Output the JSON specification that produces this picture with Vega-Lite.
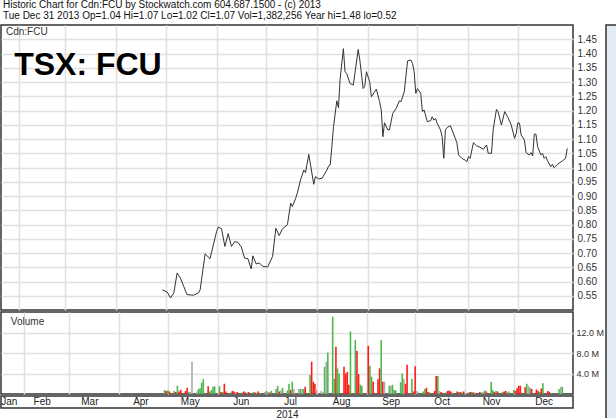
{
  "$schema": "https://vega.github.io/schema/vega-lite/v6.json",
  "padding": 0,
  "background": "white",
  "spacing": 0,
  "title": {
    "text": "Historic Chart for Cdn:FCU by Stockwatch.com 604.687.1500 - (c) 2013",
    "subtitle": "Tue Dec 31 2013  Op=1.04  Hi=1.07  Lo=1.02  Cl=1.07  Vol=1,382,256  Year hi=1.48  lo=0.52",
    "anchor": "start",
    "frame": "group",
    "font": "Liberation Sans",
    "fontSize": 10,
    "fontWeight": "normal",
    "color": "#111",
    "subtitleFont": "Liberation Sans",
    "subtitleFontSize": 10,
    "subtitleColor": "#111",
    "subtitlePadding": 1,
    "offset": 3,
    "dx": 2
  },
  "datasets": {
    "price": [
      {"date": "2014-04-29", "close": 0.571}, {"date": "2014-05-02", "close": 0.563}, {"date": "2014-05-04", "close": 0.542},
      {"date": "2014-05-06", "close": 0.560}, {"date": "2014-05-08", "close": 0.630}, {"date": "2014-05-10", "close": 0.612},
      {"date": "2014-05-12", "close": 0.583}, {"date": "2014-05-14", "close": 0.554}, {"date": "2014-05-18", "close": 0.552},
      {"date": "2014-05-21", "close": 0.560}, {"date": "2014-05-22", "close": 0.571}, {"date": "2014-05-25", "close": 0.697},
      {"date": "2014-05-28", "close": 0.680}, {"date": "2014-05-29", "close": 0.705}, {"date": "2014-06-01", "close": 0.776},
      {"date": "2014-06-02", "close": 0.791}, {"date": "2014-06-04", "close": 0.785}, {"date": "2014-06-06", "close": 0.723},
      {"date": "2014-06-08", "close": 0.768}, {"date": "2014-06-10", "close": 0.723}, {"date": "2014-06-12", "close": 0.740},
      {"date": "2014-06-14", "close": 0.737}, {"date": "2014-06-16", "close": 0.721}, {"date": "2014-06-18", "close": 0.682},
      {"date": "2014-06-20", "close": 0.680}, {"date": "2014-06-22", "close": 0.644}, {"date": "2014-06-23", "close": 0.690},
      {"date": "2014-06-25", "close": 0.662}, {"date": "2014-06-27", "close": 0.665}, {"date": "2014-06-29", "close": 0.653},
      {"date": "2014-07-02", "close": 0.651}, {"date": "2014-07-05", "close": 0.688}, {"date": "2014-07-07", "close": 0.787},
      {"date": "2014-07-09", "close": 0.761}, {"date": "2014-07-11", "close": 0.785}, {"date": "2014-07-14", "close": 0.799},
      {"date": "2014-07-16", "close": 0.875}, {"date": "2014-07-17", "close": 0.863}, {"date": "2014-07-19", "close": 0.892},
      {"date": "2014-07-20", "close": 0.910}, {"date": "2014-07-22", "close": 0.957}, {"date": "2014-07-24", "close": 0.991},
      {"date": "2014-07-25", "close": 0.982}, {"date": "2014-07-27", "close": 1.046}, {"date": "2014-07-30", "close": 0.941},
      {"date": "2014-07-31", "close": 0.968}, {"date": "2014-08-02", "close": 0.960}, {"date": "2014-08-04", "close": 0.962},
      {"date": "2014-08-07", "close": 0.991}, {"date": "2014-08-08", "close": 1.005}, {"date": "2014-08-09", "close": 1.009},
      {"date": "2014-08-10", "close": 1.073}, {"date": "2014-08-11", "close": 1.143}, {"date": "2014-08-13", "close": 1.234},
      {"date": "2014-08-14", "close": 1.210}, {"date": "2014-08-15", "close": 1.309}, {"date": "2014-08-17", "close": 1.417},
      {"date": "2014-08-18", "close": 1.336}, {"date": "2014-08-19", "close": 1.330}, {"date": "2014-08-21", "close": 1.295},
      {"date": "2014-08-23", "close": 1.289}, {"date": "2014-08-24", "close": 1.330}, {"date": "2014-08-26", "close": 1.414},
      {"date": "2014-08-27", "close": 1.377}, {"date": "2014-08-29", "close": 1.277}, {"date": "2014-08-30", "close": 1.285},
      {"date": "2014-08-31", "close": 1.336}, {"date": "2014-09-02", "close": 1.301}, {"date": "2014-09-03", "close": 1.248},
      {"date": "2014-09-06", "close": 1.275}, {"date": "2014-09-08", "close": 1.231}, {"date": "2014-09-09", "close": 1.202},
      {"date": "2014-09-10", "close": 1.108}, {"date": "2014-09-11", "close": 1.157}, {"date": "2014-09-13", "close": 1.132},
      {"date": "2014-09-14", "close": 1.132}, {"date": "2014-09-16", "close": 1.190}, {"date": "2014-09-18", "close": 1.207},
      {"date": "2014-09-20", "close": 1.234}, {"date": "2014-09-21", "close": 1.231}, {"date": "2014-09-23", "close": 1.266},
      {"date": "2014-09-25", "close": 1.374}, {"date": "2014-09-27", "close": 1.377}, {"date": "2014-09-28", "close": 1.365},
      {"date": "2014-09-29", "close": 1.336}, {"date": "2014-09-30", "close": 1.260}, {"date": "2014-10-01", "close": 1.277},
      {"date": "2014-10-03", "close": 1.260}, {"date": "2014-10-04", "close": 1.196}, {"date": "2014-10-05", "close": 1.202},
      {"date": "2014-10-07", "close": 1.161}, {"date": "2014-10-09", "close": 1.164}, {"date": "2014-10-10", "close": 1.178},
      {"date": "2014-10-11", "close": 1.166}, {"date": "2014-10-12", "close": 1.172}, {"date": "2014-10-13", "close": 1.155},
      {"date": "2014-10-15", "close": 1.132}, {"date": "2014-10-16", "close": 1.108}, {"date": "2014-10-17", "close": 1.032},
      {"date": "2014-10-18", "close": 1.132}, {"date": "2014-10-19", "close": 1.140}, {"date": "2014-10-21", "close": 1.147},
      {"date": "2014-10-22", "close": 1.132}, {"date": "2014-10-24", "close": 1.102}, {"date": "2014-10-25", "close": 1.085},
      {"date": "2014-10-26", "close": 1.044}, {"date": "2014-10-28", "close": 1.032}, {"date": "2014-10-30", "close": 1.026},
      {"date": "2014-10-31", "close": 1.020}, {"date": "2014-11-01", "close": 1.038}, {"date": "2014-11-02", "close": 1.032},
      {"date": "2014-11-04", "close": 1.087}, {"date": "2014-11-06", "close": 1.076}, {"date": "2014-11-08", "close": 1.071},
      {"date": "2014-11-10", "close": 1.064}, {"date": "2014-11-12", "close": 1.079}, {"date": "2014-11-13", "close": 1.050},
      {"date": "2014-11-15", "close": 1.050}, {"date": "2014-11-16", "close": 1.132}, {"date": "2014-11-18", "close": 1.204},
      {"date": "2014-11-19", "close": 1.196}, {"date": "2014-11-21", "close": 1.149}, {"date": "2014-11-23", "close": 1.196},
      {"date": "2014-11-25", "close": 1.175}, {"date": "2014-11-27", "close": 1.149}, {"date": "2014-11-29", "close": 1.102},
      {"date": "2014-11-30", "close": 1.120}, {"date": "2014-12-01", "close": 1.157}, {"date": "2014-12-02", "close": 1.155},
      {"date": "2014-12-03", "close": 1.114}, {"date": "2014-12-05", "close": 1.096}, {"date": "2014-12-06", "close": 1.052},
      {"date": "2014-12-08", "close": 1.044}, {"date": "2014-12-09", "close": 1.052}, {"date": "2014-12-10", "close": 1.041},
      {"date": "2014-12-11", "close": 1.117}, {"date": "2014-12-12", "close": 1.117}, {"date": "2014-12-13", "close": 1.073},
      {"date": "2014-12-15", "close": 1.044}, {"date": "2014-12-16", "close": 1.050}, {"date": "2014-12-17", "close": 1.032},
      {"date": "2014-12-18", "close": 1.038}, {"date": "2014-12-19", "close": 1.024}, {"date": "2014-12-21", "close": 1.003},
      {"date": "2014-12-22", "close": 1.011}, {"date": "2014-12-23", "close": 0.999}, {"date": "2014-12-25", "close": 1.011},
      {"date": "2014-12-28", "close": 1.023}, {"date": "2014-12-30", "close": 1.032}, {"date": "2014-12-31", "close": 1.067}
    ],
    "volume": [
      {"date": "2014-04-29", "vol": 0.8, "dir": "up"}, {"date": "2014-04-30", "vol": 0.6, "dir": "down"},
      {"date": "2014-05-01", "vol": 0.7, "dir": "up"}, {"date": "2014-05-02", "vol": 0.5, "dir": "down"},
      {"date": "2014-05-05", "vol": 0.6, "dir": "up"}, {"date": "2014-05-06", "vol": 0.4, "dir": "down"},
      {"date": "2014-05-07", "vol": 1.6, "dir": "up"}, {"date": "2014-05-08", "vol": 0.5, "dir": "down"},
      {"date": "2014-05-09", "vol": 0.8, "dir": "down"}, {"date": "2014-05-12", "vol": 0.6, "dir": "down"},
      {"date": "2014-05-13", "vol": 1.2, "dir": "down"}, {"date": "2014-05-14", "vol": 0.4, "dir": "up"},
      {"date": "2014-05-15", "vol": 0.4, "dir": "flat"}, {"date": "2014-05-16", "vol": 6.3, "dir": "flat"},
      {"date": "2014-05-19", "vol": 0.5, "dir": "flat"}, {"date": "2014-05-20", "vol": 1.0, "dir": "up"},
      {"date": "2014-05-21", "vol": 1.1, "dir": "up"}, {"date": "2014-05-22", "vol": 2.2, "dir": "up"},
      {"date": "2014-05-23", "vol": 2.9, "dir": "up"}, {"date": "2014-05-26", "vol": 1.5, "dir": "down"},
      {"date": "2014-05-27", "vol": 0.5, "dir": "up"}, {"date": "2014-05-28", "vol": 0.8, "dir": "up"},
      {"date": "2014-05-29", "vol": 1.4, "dir": "up"}, {"date": "2014-05-30", "vol": 1.5, "dir": "up"},
      {"date": "2014-06-02", "vol": 1.5, "dir": "up"}, {"date": "2014-06-03", "vol": 0.4, "dir": "down"},
      {"date": "2014-06-04", "vol": 0.4, "dir": "up"}, {"date": "2014-06-05", "vol": 2.0, "dir": "down"},
      {"date": "2014-06-06", "vol": 0.5, "dir": "down"}, {"date": "2014-06-09", "vol": 0.3, "dir": "up"},
      {"date": "2014-06-10", "vol": 0.6, "dir": "down"}, {"date": "2014-06-11", "vol": 0.5, "dir": "down"},
      {"date": "2014-06-12", "vol": 0.3, "dir": "flat"}, {"date": "2014-06-13", "vol": 0.4, "dir": "down"},
      {"date": "2014-06-16", "vol": 0.3, "dir": "up"}, {"date": "2014-06-17", "vol": 0.5, "dir": "down"},
      {"date": "2014-06-18", "vol": 0.3, "dir": "down"}, {"date": "2014-06-19", "vol": 0.3, "dir": "flat"},
      {"date": "2014-06-20", "vol": 0.4, "dir": "down"}, {"date": "2014-06-23", "vol": 0.4, "dir": "up"},
      {"date": "2014-06-24", "vol": 0.3, "dir": "down"}, {"date": "2014-06-25", "vol": 0.3, "dir": "flat"},
      {"date": "2014-06-26", "vol": 0.5, "dir": "down"}, {"date": "2014-06-27", "vol": 0.2, "dir": "up"},
      {"date": "2014-06-30", "vol": 0.4, "dir": "flat"}, {"date": "2014-07-01", "vol": 0.6, "dir": "up"},
      {"date": "2014-07-02", "vol": 0.4, "dir": "flat"}, {"date": "2014-07-03", "vol": 0.3, "dir": "down"},
      {"date": "2014-07-04", "vol": 0.6, "dir": "up"}, {"date": "2014-07-07", "vol": 1.0, "dir": "up"},
      {"date": "2014-07-08", "vol": 1.6, "dir": "up"}, {"date": "2014-07-09", "vol": 0.5, "dir": "down"},
      {"date": "2014-07-10", "vol": 0.7, "dir": "flat"}, {"date": "2014-07-11", "vol": 1.2, "dir": "up"},
      {"date": "2014-07-14", "vol": 0.7, "dir": "up"}, {"date": "2014-07-15", "vol": 2.0, "dir": "up"},
      {"date": "2014-07-16", "vol": 0.8, "dir": "down"}, {"date": "2014-07-17", "vol": 2.4, "dir": "up"},
      {"date": "2014-07-18", "vol": 1.0, "dir": "flat"}, {"date": "2014-07-21", "vol": 1.0, "dir": "flat"},
      {"date": "2014-07-22", "vol": 1.0, "dir": "up"}, {"date": "2014-07-23", "vol": 1.0, "dir": "flat"},
      {"date": "2014-07-24", "vol": 1.0, "dir": "up"}, {"date": "2014-07-25", "vol": 1.4, "dir": "down"},
      {"date": "2014-07-28", "vol": 3.7, "dir": "up"}, {"date": "2014-07-29", "vol": 6.3, "dir": "down"},
      {"date": "2014-07-30", "vol": 2.4, "dir": "down"}, {"date": "2014-07-31", "vol": 2.0, "dir": "down"},
      {"date": "2014-08-01", "vol": 0.8, "dir": "flat"}, {"date": "2014-08-04", "vol": 0.6, "dir": "flat"},
      {"date": "2014-08-05", "vol": 0.3, "dir": "up"}, {"date": "2014-08-06", "vol": 5.3, "dir": "up"},
      {"date": "2014-08-07", "vol": 6.3, "dir": "flat"}, {"date": "2014-08-08", "vol": 8.1, "dir": "up"},
      {"date": "2014-08-11", "vol": 15.1, "dir": "up"}, {"date": "2014-08-12", "vol": 3.0, "dir": "up"},
      {"date": "2014-08-13", "vol": 9.2, "dir": "down"}, {"date": "2014-08-14", "vol": 5.0, "dir": "up"},
      {"date": "2014-08-15", "vol": 4.0, "dir": "up"}, {"date": "2014-08-18", "vol": 5.3, "dir": "down"},
      {"date": "2014-08-19", "vol": 4.0, "dir": "down"}, {"date": "2014-08-20", "vol": 4.3, "dir": "down"},
      {"date": "2014-08-21", "vol": 1.8, "dir": "down"}, {"date": "2014-08-22", "vol": 12.2, "dir": "up"},
      {"date": "2014-08-25", "vol": 10.5, "dir": "up"}, {"date": "2014-08-26", "vol": 8.4, "dir": "down"},
      {"date": "2014-08-27", "vol": 3.9, "dir": "down"}, {"date": "2014-08-28", "vol": 1.8, "dir": "up"},
      {"date": "2014-08-29", "vol": 1.6, "dir": "up"}, {"date": "2014-09-02", "vol": 9.4, "dir": "down"},
      {"date": "2014-09-03", "vol": 5.5, "dir": "up"}, {"date": "2014-09-04", "vol": 3.4, "dir": "up"},
      {"date": "2014-09-05", "vol": 2.4, "dir": "down"}, {"date": "2014-09-08", "vol": 2.9, "dir": "down"},
      {"date": "2014-09-09", "vol": 5.0, "dir": "down"}, {"date": "2014-09-10", "vol": 10.5, "dir": "up"},
      {"date": "2014-09-11", "vol": 2.4, "dir": "down"}, {"date": "2014-09-12", "vol": 2.4, "dir": "flat"},
      {"date": "2014-09-15", "vol": 1.6, "dir": "up"}, {"date": "2014-09-16", "vol": 1.6, "dir": "flat"},
      {"date": "2014-09-17", "vol": 1.8, "dir": "up"}, {"date": "2014-09-18", "vol": 0.8, "dir": "up"},
      {"date": "2014-09-19", "vol": 0.7, "dir": "up"}, {"date": "2014-09-22", "vol": 2.3, "dir": "up"},
      {"date": "2014-09-23", "vol": 4.0, "dir": "up"}, {"date": "2014-09-24", "vol": 3.0, "dir": "flat"},
      {"date": "2014-09-25", "vol": 2.0, "dir": "down"}, {"date": "2014-09-26", "vol": 5.7, "dir": "down"},
      {"date": "2014-09-29", "vol": 3.0, "dir": "up"}, {"date": "2014-09-30", "vol": 0.5, "dir": "down"},
      {"date": "2014-10-01", "vol": 5.4, "dir": "down"}, {"date": "2014-10-02", "vol": 0.6, "dir": "flat"},
      {"date": "2014-10-03", "vol": 0.3, "dir": "up"}, {"date": "2014-10-06", "vol": 0.5, "dir": "up"},
      {"date": "2014-10-07", "vol": 1.0, "dir": "up"}, {"date": "2014-10-08", "vol": 1.2, "dir": "down"},
      {"date": "2014-10-09", "vol": 0.4, "dir": "down"}, {"date": "2014-10-10", "vol": 0.3, "dir": "up"},
      {"date": "2014-10-13", "vol": 0.6, "dir": "down"}, {"date": "2014-10-14", "vol": 3.5, "dir": "down"},
      {"date": "2014-10-15", "vol": 3.5, "dir": "up"}, {"date": "2014-10-16", "vol": 0.6, "dir": "flat"},
      {"date": "2014-10-17", "vol": 0.4, "dir": "down"}, {"date": "2014-10-20", "vol": 0.3, "dir": "up"},
      {"date": "2014-10-21", "vol": 0.6, "dir": "down"}, {"date": "2014-10-22", "vol": 0.7, "dir": "down"},
      {"date": "2014-10-23", "vol": 0.5, "dir": "down"}, {"date": "2014-10-24", "vol": 0.3, "dir": "flat"},
      {"date": "2014-10-27", "vol": 0.5, "dir": "down"}, {"date": "2014-10-28", "vol": 0.4, "dir": "up"},
      {"date": "2014-10-29", "vol": 0.4, "dir": "down"}, {"date": "2014-10-30", "vol": 0.3, "dir": "up"},
      {"date": "2014-10-31", "vol": 0.5, "dir": "down"}, {"date": "2014-11-03", "vol": 0.3, "dir": "up"},
      {"date": "2014-11-04", "vol": 0.4, "dir": "down"}, {"date": "2014-11-05", "vol": 0.4, "dir": "up"},
      {"date": "2014-11-06", "vol": 0.3, "dir": "down"}, {"date": "2014-11-07", "vol": 0.3, "dir": "flat"},
      {"date": "2014-11-10", "vol": 0.4, "dir": "down"}, {"date": "2014-11-11", "vol": 0.3, "dir": "up"},
      {"date": "2014-11-12", "vol": 0.4, "dir": "flat"}, {"date": "2014-11-13", "vol": 0.7, "dir": "up"},
      {"date": "2014-11-14", "vol": 0.5, "dir": "down"}, {"date": "2014-11-17", "vol": 2.4, "dir": "up"},
      {"date": "2014-11-18", "vol": 0.8, "dir": "up"}, {"date": "2014-11-19", "vol": 0.4, "dir": "down"},
      {"date": "2014-11-20", "vol": 0.6, "dir": "up"}, {"date": "2014-11-21", "vol": 0.5, "dir": "down"},
      {"date": "2014-11-24", "vol": 0.4, "dir": "up"}, {"date": "2014-11-25", "vol": 0.5, "dir": "down"},
      {"date": "2014-11-26", "vol": 0.6, "dir": "down"}, {"date": "2014-11-27", "vol": 0.3, "dir": "up"},
      {"date": "2014-11-28", "vol": 0.5, "dir": "up"}, {"date": "2014-12-01", "vol": 0.8, "dir": "up"},
      {"date": "2014-12-02", "vol": 0.6, "dir": "down"}, {"date": "2014-12-03", "vol": 1.1, "dir": "down"},
      {"date": "2014-12-04", "vol": 1.6, "dir": "down"}, {"date": "2014-12-05", "vol": 1.6, "dir": "down"},
      {"date": "2014-12-08", "vol": 1.3, "dir": "down"}, {"date": "2014-12-09", "vol": 2.0, "dir": "up"},
      {"date": "2014-12-10", "vol": 1.6, "dir": "flat"}, {"date": "2014-12-11", "vol": 1.2, "dir": "up"},
      {"date": "2014-12-12", "vol": 1.0, "dir": "down"}, {"date": "2014-12-15", "vol": 0.9, "dir": "down"},
      {"date": "2014-12-16", "vol": 0.6, "dir": "down"}, {"date": "2014-12-17", "vol": 0.4, "dir": "up"},
      {"date": "2014-12-18", "vol": 1.1, "dir": "down"}, {"date": "2014-12-19", "vol": 2.1, "dir": "up"},
      {"date": "2014-12-22", "vol": 0.6, "dir": "down"}, {"date": "2014-12-23", "vol": 0.4, "dir": "down"},
      {"date": "2014-12-24", "vol": 0.2, "dir": "up"}, {"date": "2014-12-29", "vol": 1.0, "dir": "up"},
      {"date": "2014-12-30", "vol": 1.4, "dir": "flat"}, {"date": "2014-12-31", "vol": 1.4, "dir": "up"}
    ],
    "months": [
      {"date": "2014-01-26", "m": "Jan"}, {"date": "2014-02-15", "m": "Feb"}, {"date": "2014-03-16", "m": "Mar"},
      {"date": "2014-04-16", "m": "Apr"}, {"date": "2014-05-16", "m": "May"}, {"date": "2014-06-16", "m": "Jun"},
      {"date": "2014-07-16", "m": "Jul"}, {"date": "2014-08-16", "m": "Aug"}, {"date": "2014-09-15", "m": "Sep"},
      {"date": "2014-10-16", "m": "Oct"}, {"date": "2014-11-15", "m": "Nov"}, {"date": "2014-12-17", "m": "Dec"}
    ],
    "strip": [{"panel": "margin"}]
  },
  "hconcat": [
    {
      "spacing": 0,
      "vconcat": [
        {
          "width": 572,
          "height": 285,
          "layer": [
            {
              "data": {"name": "price"},
              "mark": {"type": "line", "color": "#333333", "strokeWidth": 1},
              "encoding": {
                "x": {
                  "field": "date", "type": "temporal",
                  "scale": {"type": "utc", "domain": [{"year": 2014, "month": 1, "date": 21, "utc": true}, {"year": 2015, "month": 1, "date": 3, "hours": 12, "utc": true}]},
                  "axis": {
                    "values": [
                      {"year": 2014, "month": 2, "date": 1, "utc": true}, {"year": 2014, "month": 3, "date": 1, "utc": true},
                      {"year": 2014, "month": 4, "date": 1, "utc": true}, {"year": 2014, "month": 5, "date": 1, "utc": true},
                      {"year": 2014, "month": 6, "date": 1, "utc": true}, {"year": 2014, "month": 7, "date": 1, "utc": true},
                      {"year": 2014, "month": 8, "date": 1, "utc": true}, {"year": 2014, "month": 9, "date": 1, "utc": true},
                      {"year": 2014, "month": 10, "date": 1, "utc": true}, {"year": 2014, "month": 11, "date": 1, "utc": true},
                      {"year": 2014, "month": 12, "date": 1, "utc": true}
                    ],
                    "tickCount": 40,
                    "grid": true, "labels": false, "ticks": false, "domain": false, "title": null
                  }
                },
                "y": {
                  "field": "close", "type": "quantitative",
                  "scale": {"domain": [0.5, 1.5], "nice": false, "zero": false},
                  "axis": {
                    "orient": "right", "title": null, "format": ".2f",
                    "values": [0.55, 0.6, 0.65, 0.7, 0.75, 0.8, 0.85, 0.9, 0.95, 1.0, 1.05, 1.1, 1.15, 1.2, 1.25, 1.3, 1.35, 1.4, 1.45],
                    "tickCount": 40,
                    "grid": true, "ticks": false, "domain": false, "labelPadding": 4, "labelOverlap": false
                  }
                }
              }
            },
            {
              "data": {"values": [{"label": "Cdn:FCU"}]},
              "mark": {"type": "text", "align": "left", "baseline": "middle", "fontSize": 10, "color": "#333333"},
              "encoding": {
                "x": {"datum": {"year": 2014, "month": 1, "date": 24, "utc": true}, "type": "temporal"},
                "y": {"datum": 1.474, "type": "quantitative"},
                "text": {"field": "label"}
              }
            },
            {
              "data": {"values": [{"label": "TSX: FCU"}]},
              "mark": {"type": "text", "align": "left", "baseline": "alphabetic", "fontSize": 32, "fontWeight": "bold", "color": "#000000"},
              "encoding": {
                "x": {"datum": {"year": 2014, "month": 1, "date": 29, "utc": true}, "type": "temporal"},
                "y": {"datum": 1.324, "type": "quantitative"},
                "text": {"field": "label"}
              }
            }
          ]
        },
        {
          "width": 572,
          "height": 82,
          "layer": [
            {
              "data": {"name": "volume"},
              "mark": {"type": "bar", "width": 1.6},
              "encoding": {
                "x": {
                  "field": "date", "type": "temporal",
                  "scale": {"type": "utc", "domain": [{"year": 2014, "month": 1, "date": 21, "utc": true}, {"year": 2015, "month": 1, "date": 3, "hours": 12, "utc": true}]},
                  "axis": {
                    "values": [
                      {"year": 2014, "month": 2, "date": 1, "utc": true}, {"year": 2014, "month": 3, "date": 1, "utc": true},
                      {"year": 2014, "month": 4, "date": 1, "utc": true}, {"year": 2014, "month": 5, "date": 1, "utc": true},
                      {"year": 2014, "month": 6, "date": 1, "utc": true}, {"year": 2014, "month": 7, "date": 1, "utc": true},
                      {"year": 2014, "month": 8, "date": 1, "utc": true}, {"year": 2014, "month": 9, "date": 1, "utc": true},
                      {"year": 2014, "month": 10, "date": 1, "utc": true}, {"year": 2014, "month": 11, "date": 1, "utc": true},
                      {"year": 2014, "month": 12, "date": 1, "utc": true}
                    ],
                    "tickCount": 40,
                    "grid": true, "labels": false, "ticks": false, "domain": false, "title": null
                  }
                },
                "y": {
                  "field": "vol", "type": "quantitative",
                  "scale": {"domain": [0, 16], "nice": false},
                  "axis": {
                    "orient": "right", "title": null, "values": [4, 8, 12], "tickCount": 10,
                    "labelExpr": "format(datum.value, '.1f') + ' M'",
                    "grid": true, "ticks": false, "domain": false, "labelPadding": 3, "labelFontSize": 9, "labelOverlap": false
                  }
                },
                "color": {
                  "field": "dir", "type": "nominal",
                  "scale": {"domain": ["up", "down", "flat"], "range": ["#4cb84c", "#ff1a1a", "#aaaaaa"]},
                  "legend": null
                }
              }
            },
            {
              "data": {"values": [{"label": "Volume"}]},
              "mark": {"type": "text", "align": "left", "baseline": "middle", "fontSize": 10, "color": "#333333"},
              "encoding": {
                "x": {"datum": {"year": 2014, "month": 1, "date": 24, "utc": true}, "type": "temporal"},
                "y": {"datum": 14.1, "type": "quantitative"},
                "text": {"field": "label"}
              }
            }
          ]
        },
        {
          "width": 572,
          "height": 12,
          "data": {"name": "months"},
          "mark": {"type": "text", "fontSize": 10, "color": "#222222", "baseline": "middle"},
          "encoding": {
            "x": {
              "field": "date", "type": "temporal",
              "scale": {"type": "utc", "domain": [{"year": 2014, "month": 1, "date": 21, "utc": true}, {"year": 2015, "month": 1, "date": 3, "hours": 12, "utc": true}]},
              "axis": {"title": "2014", "labels": false, "ticks": false, "domain": false, "grid": false, "titlePadding": 1, "titleBaseline": "top", "titleFontSize": 10, "titleFontWeight": "normal", "titleColor": "#222222"}
            },
            "text": {"field": "m"}
          }
        }
      ]
    },
    {
      "width": 16,
      "height": 396,
      "data": {"name": "strip"},
      "mark": {"type": "rect", "color": "#e3ecf4", "stroke": "#333333", "strokeWidth": 1.5},
      "encoding": {}
    }
  ],
  "config": {
    "font": "Liberation Sans",
    "view": {"stroke": "#333333", "strokeWidth": 1.5},
    "axis": {
      "gridColor": "#e0e0e0", "gridWidth": 1.5,
      "labelFont": "Liberation Sans", "labelFontSize": 10, "labelColor": "#333333",
      "titleFont": "Liberation Sans"
    }
  }
}
